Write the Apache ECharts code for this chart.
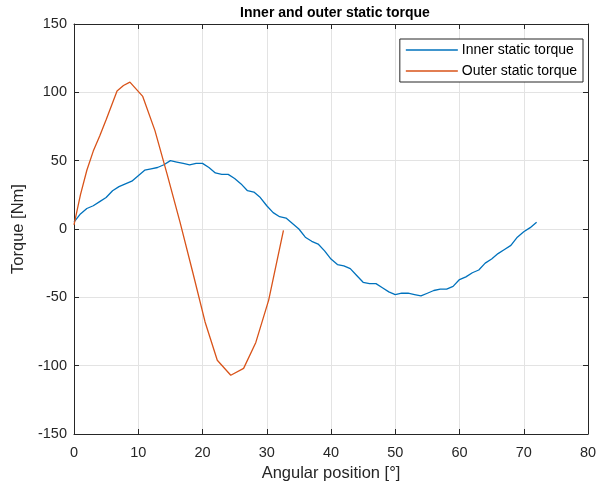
<!DOCTYPE html>
<html lang="en">
<head>
    <meta charset="UTF-8">
    <title>Inner and outer static torque</title>
    <script src="https://cdn.jsdelivr.net/npm/echarts@6.0.0/dist/echarts.min.js"></script>
    <style>
        body { margin: 0; background: #fff; }
    </style>
</head>
<body>
    <div id="main" style="width: 600px;height:492px;"></div>
    <script type="text/javascript">
        // angular positions [deg] and torques [Nm]
        const innerAngle = [0, 1, 2, 3, 4, 5, 6, 7, 8, 9, 10, 11, 12, 13, 14, 15, 16, 17, 18, 19, 20,
            21, 22, 23, 24, 25, 26, 27, 28, 29, 30, 31, 32, 33, 34, 35, 36, 37, 38, 39, 40,
            41, 42, 43, 44, 45, 46, 47, 48, 49, 50, 51, 52, 53, 54, 55, 56, 57, 58, 59, 60,
            61, 62, 63, 64, 65, 66, 67, 68, 69, 70, 71, 72];
        const innerTorque = [5, 11, 15, 17, 20, 23, 28, 31, 33, 35, 39, 43, 44, 45, 47, 50, 49, 48, 47, 48, 48,
            45, 41, 40, 40, 37, 33, 28, 27, 23, 17, 12, 9, 8, 4, 0, -6, -9, -11, -16, -22,
            -26, -27, -29, -34, -39, -40, -40, -43, -46, -48, -47, -47, -48, -49, -47, -45, -44, -44, -42, -37,
            -35, -32, -30, -25, -22, -18, -15, -12, -6, -2, 1, 5];

        const outerAngle = [0, 1, 2, 3, 4, 5, 6.7, 7.7, 8.7, 10.7, 12.6, 14.5, 16.5, 18.5, 20.4, 22.3, 24.4, 26.4, 28.3, 30.3, 32.6];
        const outerTorque = [3, 25, 43, 57, 68, 80, 101, 105, 107.5, 97, 72, 40, 5, -32, -68, -96, -107, -102, -83, -52, -1];

        const xTicks = { min: 0, max: 80, interval: 10 };
        const yTicks = { min: -150, max: 150, interval: 50 };

        const pair = (xs, ys) => xs.map((x, i) => [x, ys[i]]);

        let myChart = echarts.init(document.getElementById('main'));
        const font = 'Liberation Sans, Arial, sans-serif';
        const ink = '#262626';
        const gridColor = '#e3e3e3';

        // the box edges opposite the labelled axes only carry ticks
        const tickOnly = {
            axisLine: { show: true, onZero: false, lineStyle: { color: ink } },
            axisTick: { show: true, inside: true, length: 5, lineStyle: { color: ink } },
            axisLabel: { show: false },
            splitLine: { show: false }
        };

        let options = {
            animation: false,
            textStyle: { fontFamily: font },
            title: {
                text: 'Inner and outer static torque',
                left: 330, top: 1, textAlign: 'center',
                textStyle: { fontSize: 14, fontWeight: 'bold', color: '#000', fontFamily: font }
            },
            grid: {
                left: 74, right: 12, top: 24, bottom: 58
            },
            legend: {
                orient: 'vertical',
                right: 17, top: 39,
                icon: 'rect',
                itemWidth: 52, itemHeight: 1.5,
                itemGap: 7,
                padding: [4, 6, 4, 6],
                borderColor: ink, borderWidth: 1,
                backgroundColor: '#fff',
                textStyle: { fontSize: 14, color: '#000', padding: [0, 0, 0, -1] }
            },
            xAxis: [{
                type: 'value',
                position: 'bottom',
                min: xTicks.min, max: xTicks.max, interval: xTicks.interval,
                name: 'Angular position [°]',
                nameLocation: 'middle', nameGap: 31,
                nameTextStyle: { fontSize: 16.5, color: ink },
                axisLine: { onZero: false, lineStyle: { color: ink } },
                axisTick: { inside: true, length: 5, lineStyle: { color: ink } },
                axisLabel: { fontSize: 14.5, color: ink, margin: 11 },
                splitLine: { lineStyle: { color: gridColor } }
            }, Object.assign({
                type: 'value',
                position: 'top',
                min: xTicks.min, max: xTicks.max, interval: xTicks.interval
            }, tickOnly)],
            yAxis: [{
                type: 'value',
                position: 'left',
                min: yTicks.min, max: yTicks.max, interval: yTicks.interval,
                name: 'Torque [Nm]',
                nameLocation: 'middle', nameGap: 45,
                nameTextStyle: { fontSize: 16.5, color: ink },
                axisLine: { show: true, onZero: false, lineStyle: { color: ink } },
                axisTick: { show: true, inside: true, length: 5, lineStyle: { color: ink } },
                axisLabel: { fontSize: 14.5, color: ink, margin: 7 },
                splitLine: { lineStyle: { color: gridColor } }
            }, Object.assign({
                type: 'value',
                position: 'right',
                min: yTicks.min, max: yTicks.max, interval: yTicks.interval
            }, tickOnly)],
            series: [{
                name: 'Inner static torque',
                type: 'line',
                data: pair(innerAngle, innerTorque),
                showSymbol: false,
                color: '#0072BD',
                lineStyle: { width: 1.3 }
            }, {
                name: 'Outer static torque',
                type: 'line',
                data: pair(outerAngle, outerTorque),
                showSymbol: false,
                color: '#D95319',
                lineStyle: { width: 1.3 }
            }]
        };

        myChart.setOption(options);
    </script>
</body>
</html>
